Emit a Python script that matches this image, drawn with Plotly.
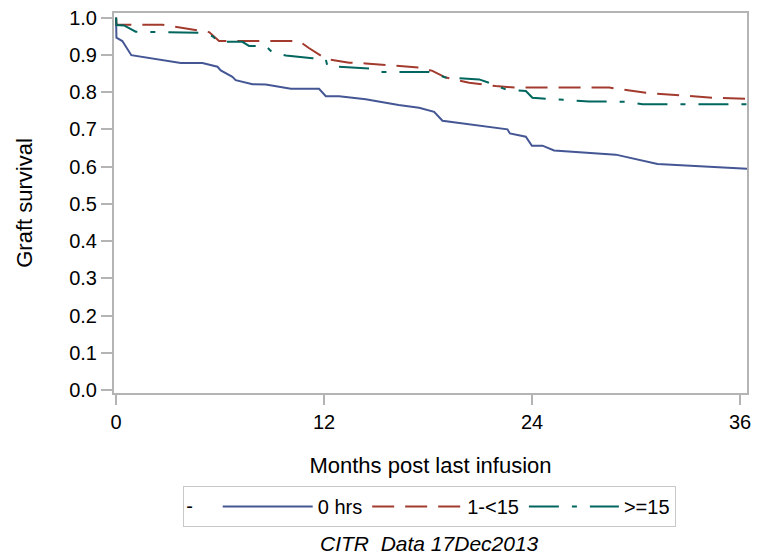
import plotly.graph_objects as go

# Blue: 0 hrs
t_0hrs = [0, 0.02, 0.36, 0.88, 3.73, 4.98, 5.85, 6.04, 6.71, 6.9, 7.87, 8.64, 10.08, 11.71, 12.1, 12.87,
          14.4, 16.3, 17.48, 18.35, 18.83, 22.58, 22.72, 23.64, 23.99, 24.6, 25.27, 28.83, 31.24, 36.4]
s_0hrs = [1.0, 0.946, 0.937, 0.899, 0.878, 0.878, 0.868, 0.858, 0.841, 0.832, 0.821, 0.820, 0.809, 0.809, 0.789, 0.789,
          0.781, 0.765, 0.758, 0.747, 0.723, 0.700, 0.689, 0.680, 0.656, 0.656, 0.643, 0.632, 0.607, 0.594]

# Red: 1-<15
t_1_15 = [0, 0.02, 2.67, 4.2, 5.37, 5.94, 10.56, 11.1, 12.1, 13.45, 14.4, 17.48, 18.25, 19.02, 20.37, 21.9,
          23.07, 28.45, 30.56, 34.4, 36.4]
s_1_15 = [1.0, 0.981, 0.981, 0.970, 0.961, 0.937, 0.937, 0.919, 0.889, 0.879, 0.877, 0.866, 0.857, 0.839, 0.825, 0.816,
          0.812, 0.812, 0.798, 0.785, 0.782]

# Green: >=15
t_ge15 = [0, 0.02, 0.46, 1.13, 4.79, 5.56, 5.94, 7.29, 7.67, 8.64, 9.02, 9.79, 11.33, 12.1, 12.19, 14.79, 15.37,
          18.06, 19.02, 20.95, 21.52, 22.49, 23.64, 24.02, 24.79, 27.29, 29.4, 30.37, 36.4]
s_ge15 = [1.0, 0.98, 0.979, 0.962, 0.959, 0.950, 0.935, 0.935, 0.924, 0.924, 0.906, 0.898, 0.891, 0.888, 0.870, 0.863, 0.854,
          0.854, 0.839, 0.834, 0.825, 0.807, 0.803, 0.785, 0.782, 0.775, 0.774, 0.767, 0.767]

x_ticks = [0, 12, 24, 36]
y_ticks = [0.0, 0.1, 0.2, 0.3, 0.4, 0.5, 0.6, 0.7, 0.8, 0.9, 1.0]

FONT = "Liberation Sans, Arial, sans-serif"
AX = "#b4b4b4"

fig = go.Figure()
fig.add_trace(go.Scatter(x=t_0hrs, y=s_0hrs, mode="lines", name="0 hrs",
                         line=dict(color="#445694", width=2)))
fig.add_trace(go.Scatter(x=t_1_15, y=s_1_15, mode="lines", name="1-<15",
                         line=dict(color="#A23A2E", width=2, dash="22px,11px")))
fig.add_trace(go.Scatter(x=t_ge15, y=s_ge15, mode="lines", name=">=15",
                         line=dict(color="#01665E", width=2, dash="30px,13px,5px,13px")))

fig.update_layout(
    width=758, height=557,
    margin=dict(l=114, r=11, t=13, b=164),
    paper_bgcolor="white", plot_bgcolor="white",
    font=dict(family=FONT, size=20, color="black"),
    showlegend=True,
    legend=dict(orientation="h", x=0.499, xanchor="center", y=-0.245, yanchor="top",
                bordercolor="#c8c8c8", borderwidth=1, font=dict(size=20),
                title=dict(text="-   ", font=dict(size=20)),
                itemwidth=90, tracegroupgap=0),
    xaxis=dict(range=[-0.12, 36.4], tickmode="array", tickvals=x_ticks,
               ticktext=[str(v) for v in x_ticks], automargin=False,
               showgrid=False, zeroline=False, showline=True, linecolor=AX, linewidth=2,
               mirror=True, ticks="outside", ticklen=10, tickwidth=2, tickcolor=AX,
               tickfont=dict(size=20),
               title=dict(text="Months post last infusion", font=dict(size=22), standoff=26)),
    yaxis=dict(range=[-0.008, 1.0123], tickmode="array", tickvals=y_ticks,
               ticktext=[f"{v:.1f}" for v in y_ticks], automargin=False,
               showgrid=False, zeroline=False, showline=True, linecolor=AX, linewidth=2,
               mirror=True, ticks="outside", ticklen=11, tickwidth=2, tickcolor=AX,
               tickfont=dict(size=20),
               title=dict(text="Graft survival", font=dict(size=22), standoff=30)),
    annotations=[dict(text="<i>CITR&nbsp;&nbsp;Data 17Dec2013</i>", xref="paper", yref="paper",
                      x=0.499, y=-0.395, xanchor="center", yanchor="middle",
                      showarrow=False, font=dict(size=21, family=FONT))],
)

fig.write_html("out.html", config={"displayModeBar": False},
               post_script="document.body.style.margin='0';")
